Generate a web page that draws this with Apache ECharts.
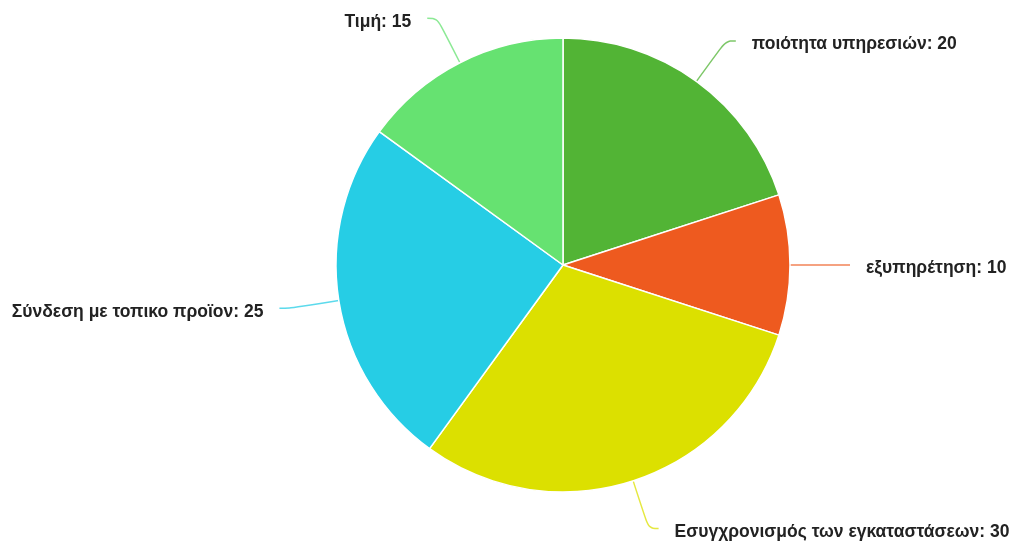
<!DOCTYPE html>
<html>
<head>
<meta charset="utf-8">
<script src="https://cdn.jsdelivr.net/npm/echarts@6/dist/echarts.min.js"></script>
<style>
  html, body { margin: 0; padding: 0; background: #fff; }
  #chart { width: 1014px; height: 547px; }
</style>
</head>
<body>
<div id="chart"></div>
<script>
  // data, clockwise from the top
  const categories = [
    'ποιότητα υπηρεσιών',
    'εξυπηρέτηση',
    'Εσυγχρονισμός των εγκαταστάσεων',
    'Σύνδεση με τοπικο προϊον',
    'Τιμή'
  ];
  const values = [20, 10, 30, 25, 15];
  const colors = ['#52b435', '#ee5a1f', '#dce000', '#26cde5', '#66e271'];

  const chart = echarts.init(document.getElementById('chart'));

  chart.setOption({
    animation: false,
    color: colors,
    series: [{
      type: 'pie',
      center: [563, 265],
      radius: 227,
      startAngle: 90,
      clockwise: true,
      itemStyle: {
        borderColor: '#ffffff',
        borderWidth: 1.5
      },
      label: {
        show: true,
        formatter: '{t|{b}: {c}}',
        overflow: 'none',
        distanceToLabelLine: 16,
        rich: {
          t: {
            color: '#222',
            fontFamily: 'Arial, "Liberation Sans", sans-serif',
            fontSize: 17.5,
            fontWeight: 'bold',
            padding: [7, 0, 0, 0]
          }
        }
      },
      labelLine: {
        show: true,
        length: 50,
        length2: 10,
        smooth: 0.4,
        lineStyle: { width: 1.5, opacity: 0.75 }
      },
      data: categories.map((name, i) => ({ name: name, value: values[i] }))
    }]
  });
</script>
</body>
</html>
